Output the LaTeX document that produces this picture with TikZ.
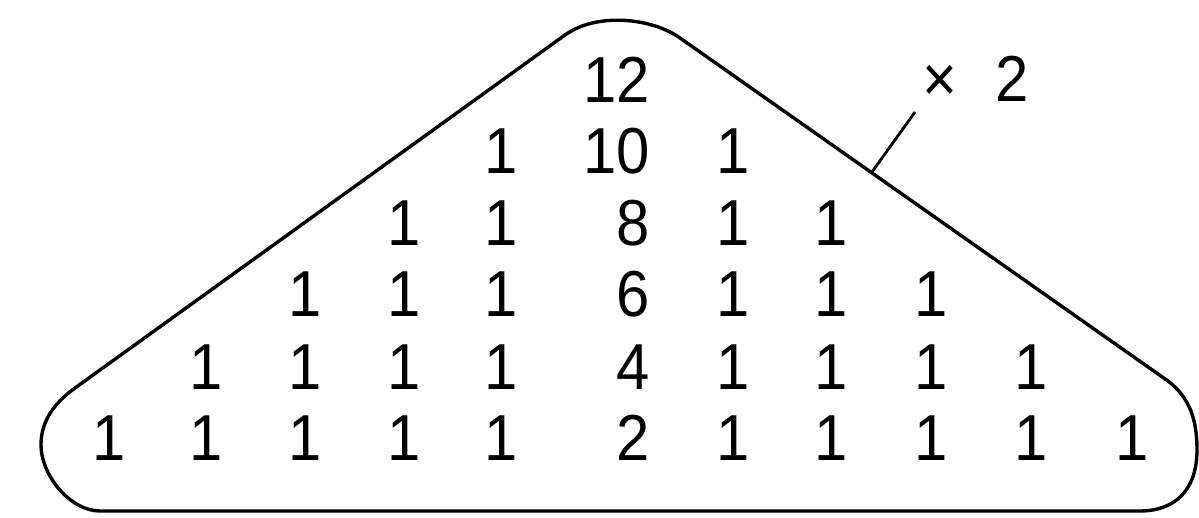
\documentclass[tikz,border=0pt]{standalone}
\usepackage{fontspec}
\setmainfont{Liberation Sans}
\newfontfamily\digitfont[FakeStretch=0.92]{Liberation Sans}
\tikzset{
  num/.style={anchor=base, inner sep=0pt, font=\digitfont\fontsize{65}{65}\selectfont},
  numr/.style={num, anchor=base east},
  outline/.style={line width=3.4pt, line join=round},
  leader/.style={line width=2.8pt}
}
\begin{document}
\begin{tikzpicture}[x=1pt,y=-1pt]
\useasboundingbox (0,0) rectangle (1199,518);
% outline
\draw[outline] (100,511) -- (1140,511)
  .. controls (1175,511) and (1197,490) .. (1197,450)
  .. controls (1197,420) and (1190,398) .. (1168,381)
  -- (680,38)
  .. controls (652,18) and (597,12) .. (565,35)
  -- (75,388)
  .. controls (50,406) and (41,425) .. (41,445)
  .. controls (41,475) and (70,511) .. (100,511) -- cycle;
% centre column
\foreach \r/\y/\v in {1/103/12, 2/174/10, 3/246/8, 4/317/6, 5/389/4, 6/460/2} {
  \node[numr] (c\r) at (650,\y) {\v};
}
% ones
\foreach \r/\y in {2/174, 3/246, 4/317, 5/389, 6/460} {
  \foreach \k/\xl/\xr in {1/501/733, 2/404/831, 3/305/931, 4/206/1031, 5/109/1132} {
    \ifnum\k<\r\relax
      \node[num] (l\r-\k) at (\xl,\y) {1};
      \node[num] (r\r-\k) at (\xr,\y) {1};
    \fi
  }
}
% label x 2
\node[num, anchor=base west] (lab) at (922,102) {×\hspace{38pt}2};
\coordinate (leadtop) at (915,112);
\coordinate (leadend) at (872,172);
\draw[leader] (leadtop) -- (leadend);
\end{tikzpicture}
\end{document}
